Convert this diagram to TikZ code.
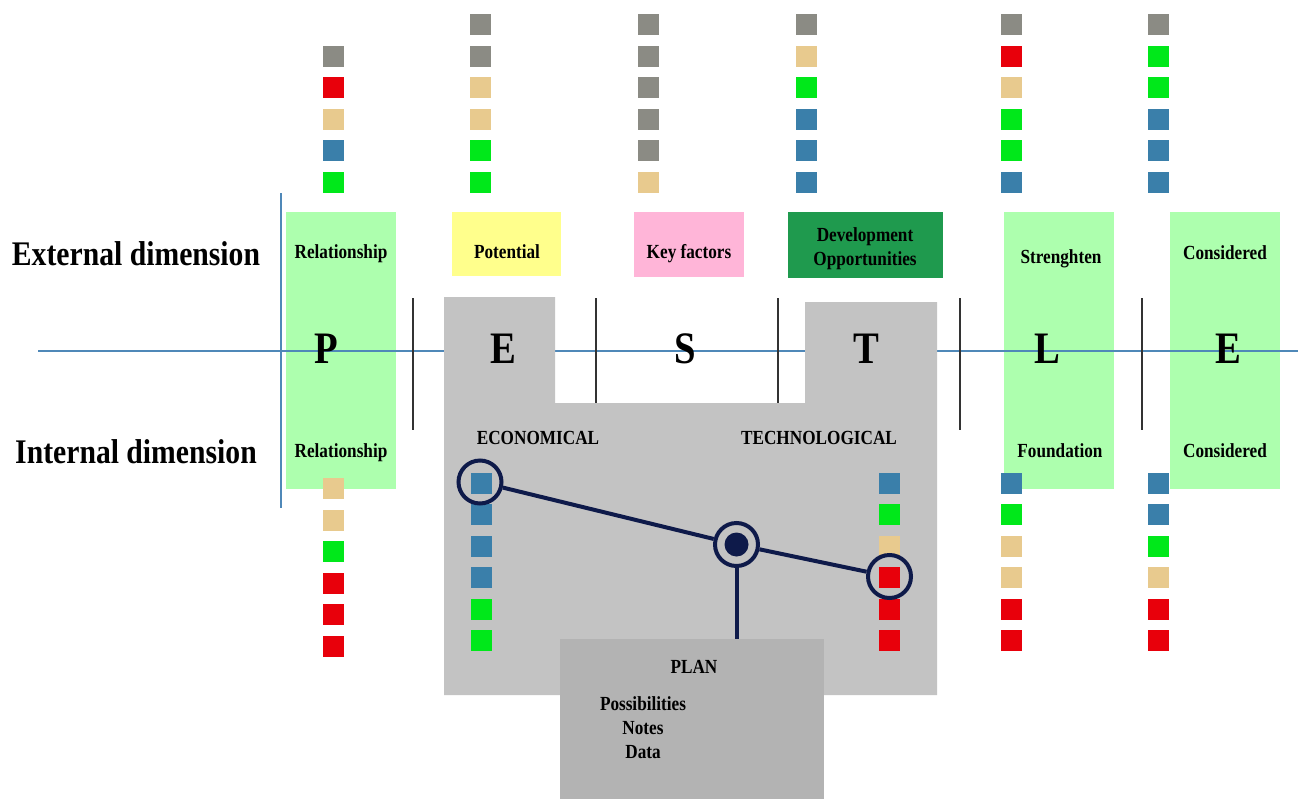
\documentclass[tikz,border=0pt]{standalone}
\usepackage{fontspec}
\setmainfont{Liberation Serif}[FakeStretch=0.86]

\definecolor{sgray}{HTML}{8B8B84}
\definecolor{sred}{HTML}{E8000B}
\definecolor{stan}{HTML}{E8CA8E}
\definecolor{sblue}{HTML}{3A7FAA}
\definecolor{sgreen}{HTML}{00E81A}
\definecolor{boxgreen}{HTML}{ADFFAE}
\definecolor{boxyellow}{HTML}{FFFF8C}
\definecolor{boxpink}{HTML}{FFB5D8}
\definecolor{boxdark}{HTML}{1F9A4E}
\definecolor{axisblue}{HTML}{4F88B8}
\definecolor{panel}{HTML}{C3C3C3}
\definecolor{plangray}{HTML}{B3B3B3}
\definecolor{navy}{HTML}{0E1A4A}
\definecolor{sep}{HTML}{333333}

\tikzset{
  sq/.style={fill=#1, minimum size=21pt, inner sep=0pt, outer sep=0pt},
  tagbox/.style={fill=#1, anchor=north west, inner sep=0pt, outer sep=0pt},
  label/.style={font=\bfseries\fontsize{20}{24}\selectfont, anchor=base, inner sep=0pt},
  dimlabel/.style={font=\bfseries\fontsize{34.5}{40}\selectfont, anchor=base, inner sep=0pt},
  letter/.style={font=\bfseries\fontsize{45}{54}\selectfont, anchor=base, inner sep=0pt},
  axisline/.style={draw=axisblue, line width=2pt},
  sepline/.style={draw=sep, line width=1.8pt},
  ring/.style={circle, draw=navy, line width=4pt, minimum size=43pt, inner sep=0pt},
  link/.style={draw=navy, line width=4pt},
}

\begin{document}
\begin{tikzpicture}[x=1pt, y=-1pt]
\useasboundingbox (0,0) rectangle (1303,798);

% green column boxes
\node[tagbox=boxgreen, minimum width=110pt, minimum height=277pt] (pbox) at (286,212) {};
\node[tagbox=boxgreen, minimum width=110pt, minimum height=277pt] (lbox) at (1004,212) {};
\node[tagbox=boxgreen, minimum width=110pt, minimum height=277pt] (ebox) at (1170,212) {};

% coloured tag boxes
\node[tagbox=boxyellow, minimum width=109pt, minimum height=64pt] (potbox) at (452,212) {};
\node[tagbox=boxpink, minimum width=110pt, minimum height=65pt] (keybox) at (634,212) {};
\node[tagbox=boxdark, minimum width=155pt, minimum height=66pt] (devbox) at (788,212) {};

% axes
\coordinate (axL) at (38,351);
\coordinate (axR) at (1298,351);
\coordinate (axT) at (281,193);
\coordinate (axB) at (281,508);
\draw[axisline] (axL) -- (axR);
\draw[axisline] (axT) -- (axB);

% separators between the letters
\foreach \x [count=\i] in {413,596,778,960,1142} {
  \coordinate (s\i t) at (\x,298);
  \coordinate (s\i b) at (\x,430);
  \draw[sepline] (s\i t) -- (s\i b);
}

% economical / technological panel
\fill[panel] (444,297) -- (555,297) -- (555,403) -- (805,403) -- (805,302)
  -- (937,302) -- (937,695) -- (444,695) -- cycle;

% plan box
\node[tagbox=plangray, minimum width=264pt, minimum height=160pt] (plan) at (560,639) {};

% letters
\node[letter] (lP) at (326,363) {P};
\node[letter] (lE) at (503,363) {E};
\node[letter] (lS) at (685,363) {S};
\node[letter] (lT) at (866,363) {T};
\node[letter] (lL) at (1047,363) {L};
\node[letter] (lE2) at (1228,363) {E};

% dimension labels
\node[dimlabel] (extdim) at (136,265) {External dimension};
\node[dimlabel] (intdim) at (136,463) {Internal dimension};

% box labels
\node[label] (relT) at (341,258) {Relationship};
\node[label] (relB) at (341,457) {Relationship};
\node[label] (pot) at (507,258) {Potential};
\node[label] (key) at (689,258) {Key factors};
\node[label] (dev) at (865,241) {Development};
\node[label] (opp) at (865,265) {Opportunities};
\node[label] (str) at (1061,263) {Strenghten};
\node[label] (fou) at (1060,457) {Foundation};
\node[label] (conT) at (1225,259) {Considered};
\node[label] (conB) at (1225,457) {Considered};
\node[label] (eco) at (538,444) {ECONOMICAL};
\node[label] (tec) at (819,444) {TECHNOLOGICAL};
\node[label] (plant) at (694,673) {PLAN};
\node[label] (pos) at (643,710) {Possibilities};
\node[label] (not) at (643,734) {Notes};
\node[label] (dat) at (643,758) {Data};

% upper square columns: name / x / first row / colours
\foreach \nm/\x/\s/\cl in {
    p/333/1/{sgray,sred,stan,sblue,sgreen},
    e/480/0/{sgray,sgray,stan,stan,sgreen,sgreen},
    s/648/0/{sgray,sgray,sgray,sgray,sgray,stan},
    t/806/0/{sgray,stan,sgreen,sblue,sblue,sblue},
    l/1011/0/{sgray,sred,stan,sgreen,sgreen,sblue},
    x/1158/0/{sgray,sgreen,sgreen,sblue,sblue,sblue}} {
  \foreach \c [count=\r] in \cl {
    \node[sq=\c] (up-\nm-\r) at (\x,{24.5+31.6*(\r-1+\s)}) {};
  }
}

% lower square columns: name / x / first centre / colours
\foreach \nm/\x/\y/\cl in {
    p/333/488.5/{stan,stan,sgreen,sred,sred,sred},
    e/481/483/{sblue,sblue,sblue,sblue,sgreen,sgreen},
    t/889/483/{sblue,sgreen,stan,sred,sred,sred},
    l/1011/483/{sblue,sgreen,stan,stan,sred,sred},
    x/1158/483/{sblue,sblue,sgreen,stan,sred,sred}} {
  \foreach \c [count=\r] in \cl {
    \node[sq=\c] (lo-\nm-\r) at (\x,{\y+31.5*(\r-1)}) {};
  }
}

% linkage rings
\node[ring] (c1) at (480,482) {};
\node[ring] (c2) at (736.5,544.5) {};
\node[ring] (c3) at (889.5,576.5) {};
\fill[navy] (c2.center) circle (12);
\draw[link] (c1) -- (c2);
\draw[link] (c2) -- (c3);
\draw[link] (c2.south) -- (c2.south |- plan.north);
\end{tikzpicture}
\end{document}
